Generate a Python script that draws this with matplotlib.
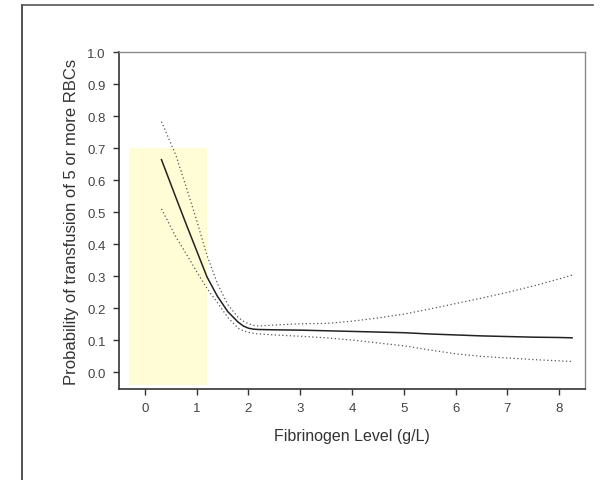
import matplotlib
matplotlib.use("Agg")
import matplotlib.pyplot as plt
from matplotlib.lines import Line2D
from matplotlib.patches import Rectangle

plt.rcParams["font.family"] = ["Liberation Sans", "DejaVu Sans"]

# fibrinogen level (g/L) and predicted probability with 95% CI
fib = [0.32, 0.6, 0.8, 1.0, 1.2, 1.4, 1.6, 1.8, 1.9, 2.0, 2.1, 2.2, 2.5,
       3.0, 3.5, 4.0, 4.5, 5.0, 5.5, 6.0, 6.5, 7.0, 7.5, 8.0, 8.25]
prob = [0.665, 0.546, 0.462, 0.38, 0.298, 0.238, 0.19, 0.157, 0.145, 0.138,
        0.135, 0.134, 0.133, 0.132, 0.130, 0.128, 0.126, 0.124, 0.120,
        0.117, 0.114, 0.112, 0.110, 0.109, 0.108]
upper = [0.784, 0.678, 0.578, 0.475, 0.365, 0.278, 0.212, 0.172, 0.16,
         0.152, 0.147, 0.145, 0.148, 0.152, 0.153, 0.16, 0.17, 0.182, 0.198,
         0.215, 0.232, 0.25, 0.27, 0.292, 0.304]
lower = [0.511, 0.423, 0.37, 0.315, 0.262, 0.218, 0.172, 0.138, 0.13, 0.125,
         0.122, 0.12, 0.117, 0.113, 0.108, 0.101, 0.092, 0.083, 0.07, 0.058,
         0.05, 0.045, 0.04, 0.036, 0.034]

# shaded low-fibrinogen band
band_x = (-0.3, 1.2)
band_y = (-0.04, 0.7)

xticks = [0, 1, 2, 3, 4, 5, 6, 7, 8]
yticks = [0.0, 0.1, 0.2, 0.3, 0.4, 0.5, 0.6, 0.7, 0.8, 0.9, 1.0]

fig = plt.figure(figsize=(6.02, 4.81), dpi=100)
ax = fig.add_axes([0.1977, 0.1892, 0.7741, 0.6996])

ax.add_patch(Rectangle((band_x[0], band_y[0]), band_x[1] - band_x[0],
                       band_y[1] - band_y[0], facecolor="#fffdd6",
                       edgecolor="none", zorder=0))

ax.plot(fib, upper, color="#555555", linestyle=(0, (1, 2)), linewidth=0.9)
ax.plot(fib, lower, color="#555555", linestyle=(0, (1, 2)), linewidth=0.9)
ax.plot(fib, prob, color="#222222", linewidth=1.1)

ax.set_xlim(-0.5, 8.5)
ax.set_ylim(-0.052, 1.0)
ax.set_xticks(xticks)
ax.set_yticks(yticks)
ax.set_yticklabels([f"{v:.1f}" for v in yticks])
ax.tick_params(direction="out", length=4.5, width=1, colors="#333333",
               labelsize=9.5, pad=5)
for lab in ax.get_xticklabels() + ax.get_yticklabels():
    lab.set_color("#444444")

for side in ("left", "bottom"):
    ax.spines[side].set_color("#333333")
    ax.spines[side].set_linewidth(1.2)
for side in ("top", "right"):
    ax.spines[side].set_color("#8a8a8a")
    ax.spines[side].set_linewidth(1.0)

ax.set_xlabel("Fibrinogen Level (g/L)", fontsize=11.5, color="#333333",
              labelpad=10)
ax.set_ylabel("Probability of transfusion of 5 or more RBCs", fontsize=12,
              color="#333333", labelpad=6)

# outer frame (left and top edges visible)
fig.add_artist(Line2D([0.0365, 0.0365], [0.0, 0.9875], color="#333333",
                      linewidth=1.2, transform=fig.transFigure))
fig.add_artist(Line2D([0.0365, 0.985], [0.9875, 0.9875], color="#555555",
                      linewidth=1.2, transform=fig.transFigure))

fig.savefig("out.png", dpi=100)
